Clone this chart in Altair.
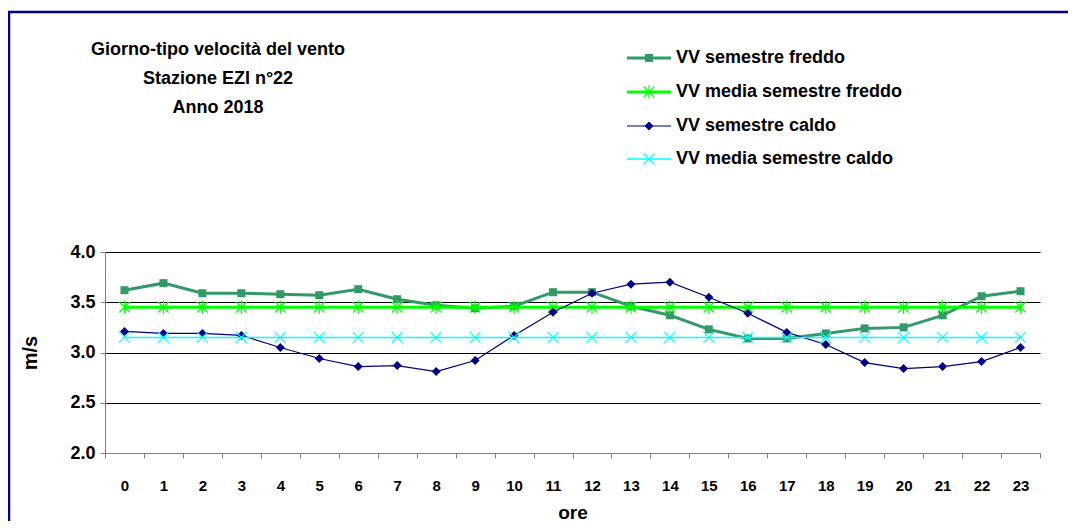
import altair as alt
import pandas as pd

# ---------------- data ----------------
hours = list(range(24))
vv_freddo = [3.62, 3.69, 3.59, 3.59, 3.58, 3.57, 3.63, 3.53, 3.47, 3.44, 3.46, 3.60,
             3.60, 3.46, 3.37, 3.23, 3.14, 3.14, 3.19, 3.24, 3.25, 3.37, 3.56, 3.61]
vv_media_freddo = [3.45] * 24
vv_caldo = [3.21, 3.19, 3.19, 3.17, 3.05, 2.94, 2.86, 2.87, 2.81, 2.92, 3.17, 3.40,
            3.59, 3.68, 3.70, 3.55, 3.39, 3.20, 3.08, 2.90, 2.84, 2.86, 2.91, 3.05]
vv_media_caldo = [3.15] * 24

series_names = ["VV semestre freddo", "VV media semestre freddo",
                "VV semestre caldo", "VV media semestre caldo"]
series_values = [vv_freddo, vv_media_freddo, vv_caldo, vv_media_caldo]
title_lines = ["Giorno-tipo velocità del vento", "Stazione EZI n°22", "Anno 2018"]
y_ticks = [2.0, 2.5, 3.0, 3.5, 4.0]
x_tick_bounds = [h - 0.5 for h in hours] + [23.5]

# ---------------- styles ----------------
FONT = "Liberation Sans"
colors = ["#339966", "#00FF00", "#000080", "#00FFFF"]
line_widths = [3, 3, 1.2, 1.5]
ASTERISK = "M-1,-1L1,1M-1,1L1,-1M0,-1.3L0,1.3"
XMARK = "M-1,-1L1,1M-1,1L1,-1"
shapes = ["square", ASTERISK, "diamond", XMARK]
filled = [True, False, True, False]
sizes = [64, 110, 81, 121]

W, H = 935, 201

rows = []
for name, vals in zip(series_names, series_values):
    for h, v in zip(hours, vals):
        rows.append({"serie": name, "ora": h, "vv": v})
df = pd.DataFrame(rows)
one = pd.DataFrame({"k": [0]})

x_enc = alt.X(
    "ora:Q",
    scale=alt.Scale(domain=[-0.5, 23.5], nice=False, zero=False),
    axis=alt.Axis(
        values=x_tick_bounds,
        labelExpr="datum.value < 23 ? format(datum.value + 0.5, 'd') : ''",
        labelOffset=W / 48,
        labelFlush=False,
        labelOverlap=False,
        grid=False,
        tickSize=5,
        tickColor="#808080",
        domainColor="#808080",
        labelPadding=20,
        labelFontSize=15,
        title="ore",
        titleFontSize=19,
        titleX=W / 2,
        titleY=65,
        titleBaseline="alphabetic",
        titleAlign="center",
    ),
)
y_enc = alt.Y(
    "vv:Q",
    scale=alt.Scale(domain=[2, 4], nice=False, zero=False),
    axis=alt.Axis(
        values=y_ticks,
        format=".1f",
        grid=True,
        gridColor="#000000",
        gridWidth=1,
        gridOpacity=1,
        tickSize=5,
        tickColor="#808080",
        domainColor="#808080",
        labelPadding=5,
        labelFontSize=18,
        title="m/s",
        titleFontSize=20,
        titleX=-75,
        titleY=H / 2,
        titleAngle=-90,
        titleAlign="center",
        titleBaseline="middle",
    ),
)

layers = []

# outer frame of the chart object
frame = alt.Chart(one).mark_rect(
    filled=False, stroke="#000080", strokeWidth=2.5
).encode(x=alt.value(-96), x2=alt.value(1000), y=alt.value(-240), y2=alt.value(400))
layers.append(frame)

for i, name in enumerate(series_names):
    base = alt.Chart(df).transform_filter(alt.datum.serie == name)
    layers.append(
        base.mark_line(color=colors[i], strokeWidth=line_widths[i]).encode(x=x_enc, y=y_enc)
    )
    layers.append(
        base.mark_point(
            shape=shapes[i], filled=filled[i], size=sizes[i], color=colors[i],
            strokeWidth=1.2, opacity=1,
        ).encode(x=x_enc, y=y_enc)
    )

# title (text lines)
title_y = [-202, -173, -144]
for t, ty in zip(title_lines, title_y):
    layers.append(
        alt.Chart(one).mark_text(
            font=FONT, fontSize=18, fontWeight="bold", color="#000000",
            align="center", baseline="middle",
        ).encode(x=alt.value(113), y=alt.value(ty), text=alt.value(t))
    )

# legend
leg_y = [-194, -160, -126, -93]
for i, name in enumerate(series_names):
    layers.append(
        alt.Chart(one).mark_rule(color=colors[i], strokeWidth=line_widths[i]).encode(
            x=alt.value(522), x2=alt.value(566), y=alt.value(leg_y[i])
        )
    )
    layers.append(
        alt.Chart(one).mark_point(
            shape=shapes[i], filled=filled[i], size=sizes[i], color=colors[i],
            strokeWidth=1.2, opacity=1,
        ).encode(x=alt.value(544), y=alt.value(leg_y[i]))
    )
    layers.append(
        alt.Chart(one).mark_text(
            font=FONT, fontSize=18, fontWeight="bold", color="#000000",
            align="left", baseline="middle",
        ).encode(x=alt.value(571), y=alt.value(leg_y[i]), text=alt.value(name))
    )

chart = (
    alt.layer(*layers)
    .properties(
        width=W,
        height=H,
        autosize=alt.AutoSizeParams(type="none"),
        padding={"left": 97, "top": 244, "right": 28, "bottom": 68},
        background="#ffffff",
    )
    .configure_view(stroke=None)
    .configure_axis(
        labelFont=FONT, titleFont=FONT, labelFontWeight="bold", titleFontWeight="bold",
        labelColor="#000000", titleColor="#000000",
    )
)

chart.save("out.html", embed_options={"renderer": "svg", "actions": False})
